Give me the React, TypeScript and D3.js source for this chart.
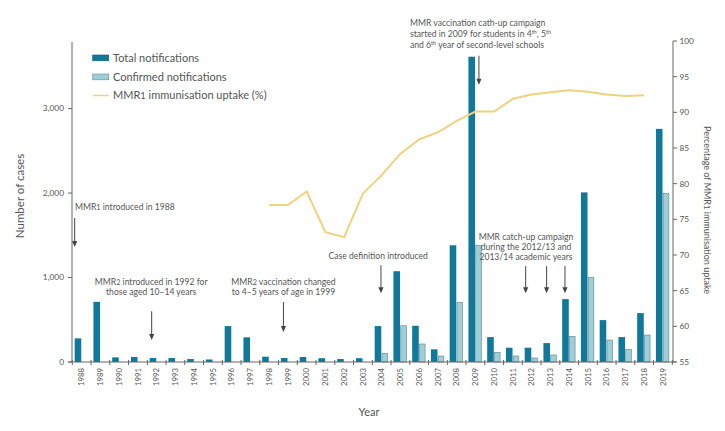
import React from "react";
import * as d3 from "d3";

const years = d3.range(1988, 2020).map(String);
const totalNotifications = [280, 712, 55, 60, 47, 47, 35, 30, 425, 292, 63, 47, 59, 45, 35, 45, 425, 1075, 429, 150, 1382, 3614, 295, 169, 169, 224, 744, 2008, 496, 295, 579, 2760];
const confirmedYears = d3.range(2004, 2020).map(String);
const confirmedNotifications = [102, 429, 213, 71, 705, 1382, 114, 71, 47, 83, 303, 1000, 260, 150, 319, 1996];
const uptakeYears = d3.range(1998, 2019).map(String);
const uptake = [77.0, 77.0, 78.9, 73.2, 72.5, 78.6, 81.2, 84.2, 86.2, 87.2, 88.8, 90.1, 90.1, 91.9, 92.5, 92.8, 93.1, 92.9, 92.5, 92.3, 92.4];
const leftTicks = [0, 1000, 2000, 3000];
const rightTicks = [55, 60, 65, 70, 75, 80, 85, 90, 95, 100];

const FONT = "Lato, 'Open Sans', sans-serif";
const TXT = "#555";
const TOTAL = "#12789a";
const CONF = "#9dcfd8";

const Arrow = ({ x, y1, y2 }: { x: number; y1: number; y2: number }) => (
  <g>
    <line x1={x} x2={x} y1={y1} y2={y2 - 5} stroke="#444" strokeWidth={1} />
    <path d={`M${x - 2.6},${y2 - 6} L${x + 2.6},${y2 - 6} L${x},${y2} Z`} fill="#444" />
  </g>
);

export default function App() {
  const W = 725, H = 431;
  const x0 = 72.3, x1 = 672.3, yb = 362, yt = 41;
  const x = d3.scaleBand<string>().domain(years).range([x0, x1]).padding(0);
  const bw = x.bandwidth();
  const cx = (y: string) => (x(y) as number) + bw / 2;
  const yL = d3.scaleLinear().domain([0, 3800]).range([yb, yt]);
  const yR = d3.scaleLinear().domain([55, 100]).range([yb, yt]);
  const line = d3.line<number>().x((_, i) => cx(uptakeYears[i])).y((d) => yR(d));

  const mmr = (prefix: string, n: string, rest: string) => (
    <>
      {prefix}
      <tspan fontSize="0.85em">{n}</tspan>
      {rest}
    </>
  );

  return (
    <svg width={W} height={H} style={{ position: "absolute", left: 0, top: 0, background: "#fff" }} fontFamily={FONT}>
      {/* bars */}
      {years.map((yr, i) => (
        <rect key={"t" + yr} x={cx(yr) - 7} width={6.6} y={yL(totalNotifications[i])} height={yb - yL(totalNotifications[i])} fill={TOTAL} />
      ))}
      {confirmedYears.map((yr, i) => (
        <rect key={"c" + yr} x={cx(yr) + 0.3} width={5.6} y={yL(confirmedNotifications[i])} height={yb - yL(confirmedNotifications[i])} fill={CONF} stroke="#6f8d94" strokeWidth={0.7} />
      ))}
      {/* uptake line */}
      <path d={line(uptake) || ""} fill="none" stroke="#eed27e" strokeWidth={2} />

      {/* axes */}
      <line x1={x0 - 0.3} x2={x0 - 0.3} y1={yb} y2={yt + 1} stroke="#666" strokeWidth={1} />
      <line x1={673} x2={673} y1={yb} y2={yt} stroke="#666" strokeWidth={1} />
      <line x1={x0 - 4} x2={676} y1={yb} y2={yb} stroke="#666" strokeWidth={1} />
      {leftTicks.map((t) => (
        <g key={"l" + t}>
          <line x1={68} x2={72} y1={yL(t)} y2={yL(t)} stroke="#666" />
          <text x={64} y={yL(t)} dy="0.35em" textAnchor="end" fontSize={8.3} fill={TXT}>{d3.format(",")(t)}</text>
        </g>
      ))}
      {rightTicks.map((t) => (
        <g key={"r" + t}>
          <line x1={673} x2={677} y1={yR(t)} y2={yR(t)} stroke="#666" />
          <text x={679.5} y={yR(t)} dy="0.35em" fontSize={8.3} fill={TXT}>{t}</text>
        </g>
      ))}
      {years.map((yr) => (
        <g key={"x" + yr}>
          <line x1={x(yr) as number} x2={x(yr) as number} y1={yb - 2} y2={yb + 3} stroke="#666" />
          <text transform={`translate(${cx(yr)},${368}) rotate(-90)`} dy="0.35em" textAnchor="end" fontSize={7.8} fill={TXT}>{yr}</text>
        </g>
      ))}
      <line x1={x1} x2={x1} y1={yb - 2} y2={yb + 3} stroke="#666" />

      {/* axis titles */}
      <text transform={`translate(24,196) rotate(-90)`} textAnchor="middle" fontSize={11.5} fill={TXT}>Number of cases</text>
      <text transform={`translate(704,210) rotate(90)`} textAnchor="middle" fontSize={9} fill={TXT}>{mmr("Percentage of MMR", "1", " immunisation uptake")}</text>
      <text x={369} y={416} textAnchor="middle" fontSize={11} fill={TXT}>Year</text>

      {/* legend */}
      <rect x={92.7} y={55} width={16} height={5.8} fill={TOTAL} stroke="#0c5a73" strokeWidth={0.6} />
      <text x={113} y={57.8} dy="0.35em" fontSize={11} fill={TXT}>Total notifications</text>
      <rect x={92.7} y={74} width={16} height={5.8} fill={CONF} stroke="#6f8d94" strokeWidth={0.6} />
      <text x={113} y={76.8} dy="0.35em" fontSize={11} fill={TXT}>Confirmed notifications</text>
      <line x1={92.7} x2={108.7} y1={95.5} y2={95.5} stroke="#eed27e" strokeWidth={1.5} />
      <text x={113} y={95.5} dy="0.35em" fontSize={11} fill={TXT}>{mmr("MMR", "1", " immunisation uptake (%)")}</text>

      {/* annotations */}
      <g fontSize={8.6} fill={TXT}>
        <text x={75} y={209.5}>{mmr("MMR", "1", " introduced in 1988")}</text>
        <text x={cx("1992") - 5.5} y={284.5} textAnchor="middle">{mmr("MMR", "2", " introduced in 1992 for")}</text>
        <text x={cx("1992") - 5.5} y={294.5} textAnchor="middle">those aged 10–14 years</text>
        <text x={cx("1999") - 4.5} y={284.5} textAnchor="middle">{mmr("MMR", "2", " vaccination changed")}</text>
        <text x={cx("1999") - 4.5} y={294.5} textAnchor="middle">to 4–5 years of age in 1999</text>
        <text x={328.5} y={258.5}>Case definition introduced</text>
        <text x={410} y={25.5}>MMR vaccination cath-up campaign</text>
        <text x={410} y={36.5}>started in 2009 for students in 4<tspan fontSize="0.65em" dy={-3}>th</tspan><tspan dy={3}>, 5</tspan><tspan fontSize="0.65em" dy={-3}>th</tspan></text>
        <text x={410} y={47.5}>and 6<tspan fontSize="0.65em" dy={-3}>th</tspan><tspan dy={3}> year of second-level schools</tspan></text>
        <text x={526} y={239.5} textAnchor="middle">MMR catch-up campaign</text>
        <text x={526} y={249.5} textAnchor="middle">during the 2012/13 and</text>
        <text x={526} y={259.5} textAnchor="middle">2013/14 academic years</text>
      </g>
      <Arrow x={cx("1988") - 7} y1={yL(1705)} y2={yL(1361)} />
      <Arrow x={cx("1992") - 5} y1={yL(600)} y2={yL(260)} />
      <Arrow x={cx("1999") - 4.5} y1={yL(710)} y2={yL(355)} />
      <Arrow x={cx("2004") - 0.7} y1={yL(1145)} y2={yL(815)} />
      <Arrow x={cx("2009") + 3.5} y1={yL(3625)} y2={yL(3282)} />
      <Arrow x={cx("2012") - 6} y1={yL(1135)} y2={yL(815)} />
      <Arrow x={cx("2013") - 3.8} y1={yL(1135)} y2={yL(815)} />
      <Arrow x={cx("2014") - 4.2} y1={yL(1135)} y2={yL(815)} />
    </svg>
  );
}
